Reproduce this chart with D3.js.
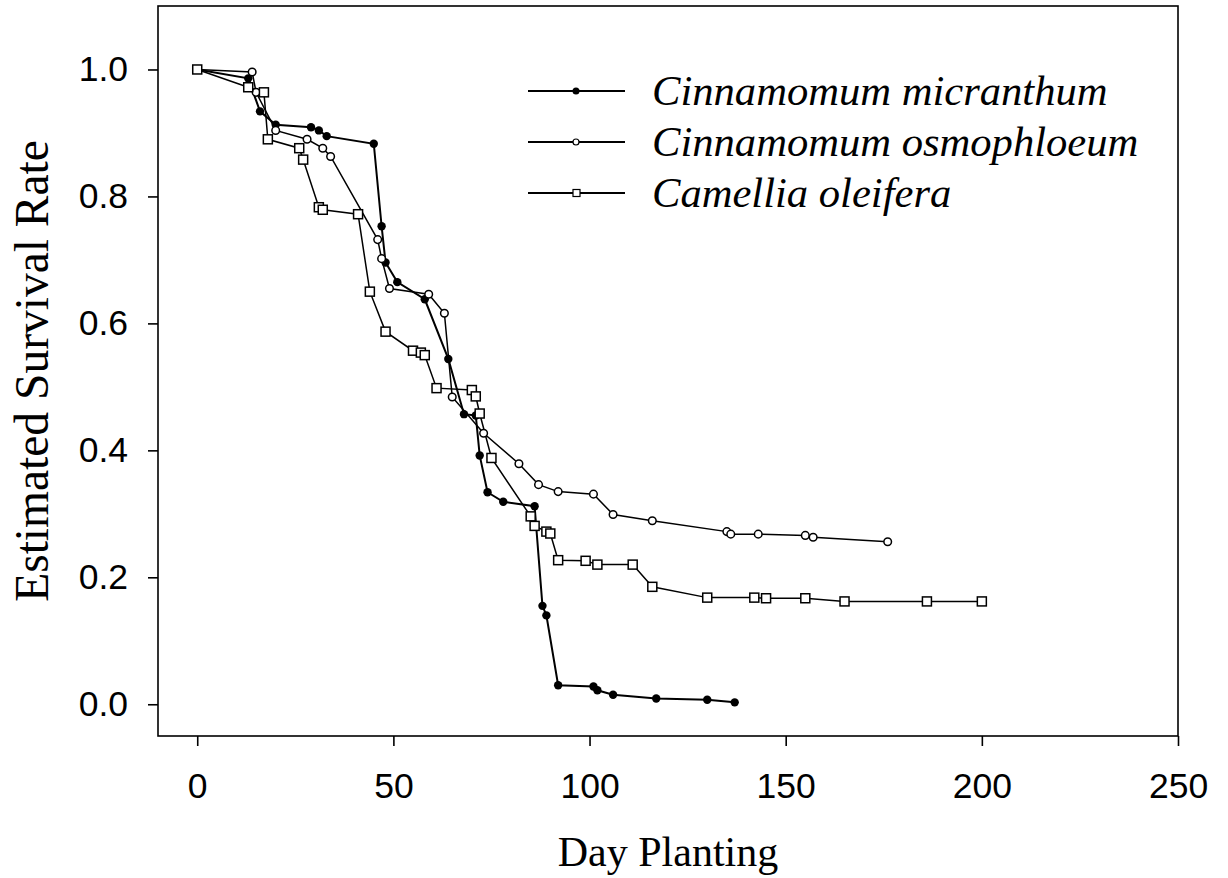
<!DOCTYPE html>
<meta charset="utf-8">
<style>
body { margin: 0; background: #fff; }
.axis text { font-family: "Liberation Sans", Arial, sans-serif; font-size: 35.5px; fill: #000; }
.axis path, .axis line { stroke: #000; stroke-width: 1.6px; }
.frame { fill: none; stroke: #000; stroke-width: 1.6px; }
.line { fill: none; stroke: #000; }
.label { font-family: "Liberation Serif", "Times New Roman", serif; fill: #000; }
.legend text { font-family: "Liberation Serif", "Times New Roman", serif; font-style: italic; font-size: 42.6px; }
</style>
<body>
<script src="https://cdn.jsdelivr.net/npm/d3@7"></script>
<script>

// Cinnamomum micranthum
var micDays = [0, 13, 16, 20, 29, 31, 33, 45, 47, 48, 51, 58, 64, 68, 71, 72, 74, 78, 86, 88, 89, 92, 101, 102, 106, 117, 130, 137];
var micRate = [1.0, 0.986, 0.934, 0.913, 0.909, 0.904, 0.895, 0.883, 0.753, 0.696, 0.665, 0.638, 0.544, 0.457, 0.455, 0.392, 0.334, 0.319, 0.312, 0.155, 0.140, 0.030, 0.028, 0.022, 0.015, 0.009, 0.007, 0.003];

// Cinnamomum osmophloeum
var osmDays = [0, 14, 15, 20, 28, 32, 34, 46, 47, 49, 59, 63, 65, 73, 82, 87, 92, 101, 106, 116, 135, 136, 143, 155, 157, 176];
var osmRate = [1.0, 0.996, 0.964, 0.904, 0.890, 0.876, 0.863, 0.732, 0.702, 0.655, 0.646, 0.616, 0.484, 0.427, 0.379, 0.346, 0.335, 0.331, 0.299, 0.289, 0.272, 0.268, 0.268, 0.266, 0.263, 0.256];

// Camellia oleifera
var camDays = [0, 13, 17, 18, 26, 27, 31, 32, 41, 44, 48, 55, 57, 58, 61, 70, 71, 72, 75, 85, 86, 89, 90, 92, 99, 102, 111, 116, 130, 142, 145, 155, 165, 186, 200];
var camRate = [1.0, 0.972, 0.964, 0.890, 0.876, 0.858, 0.783, 0.779, 0.772, 0.650, 0.587, 0.557, 0.554, 0.550, 0.498, 0.495, 0.485, 0.458, 0.388, 0.296, 0.281, 0.272, 0.269, 0.227, 0.226, 0.220, 0.220, 0.185, 0.168, 0.168, 0.167, 0.167, 0.162, 0.162, 0.162];

var names = ["Cinnamomum micranthum", "Cinnamomum osmophloeum", "Camellia oleifera"];
var xTicks = [0, 50, 100, 150, 200, 250];
var yTicks = [0.0, 0.2, 0.4, 0.6, 0.8, 1.0];

var width = 1228, height = 878;
var margin = {top: 6, right: 50, bottom: 142, left: 158};

var svg = d3.select("body").append("svg")
    .attr("width", width)
    .attr("height", height);

var x = d3.scaleLinear().domain([-10, 250]).range([margin.left, width - margin.right]);
var y = d3.scaleLinear().domain([-0.05, 1.1]).range([height - margin.bottom, margin.top]);

// frame
svg.append("rect").attr("class", "frame")
    .attr("x", x(-10)).attr("y", y(1.1))
    .attr("width", x(250) - x(-10)).attr("height", y(-0.05) - y(1.1));

var xAxis = d3.axisBottom(x).tickValues(xTicks).tickSize(10).tickPadding(27).tickFormat(d3.format("d"));
var yAxis = d3.axisLeft(y).tickValues(yTicks).tickSize(10).tickPadding(20).tickFormat(d3.format(".1f"));

svg.append("g").attr("class", "axis")
    .attr("transform", "translate(0," + y(-0.05) + ")")
    .call(xAxis)
    .call(g => g.select(".domain").remove());
svg.append("g").attr("class", "axis")
    .attr("transform", "translate(" + x(-10) + ",0)")
    .call(yAxis)
    .call(g => g.select(".domain").remove());

// axis labels
svg.append("text").attr("class", "label")
    .attr("x", (x(-10) + x(250)) / 2).attr("y", 866)
    .attr("text-anchor", "middle").style("font-size", "42px")
    .text("Day Planting");
svg.append("text").attr("class", "label")
    .attr("transform", "translate(48," + (y(-0.05) + y(1.1)) / 2 + ") rotate(-90)")
    .attr("text-anchor", "middle").style("font-size", "47.5px")
    .text("Estimated Survival Rate");

var line = d3.line().x(d => x(d[0])).y(d => y(d[1]));

var mic = d3.zip(micDays, micRate);
var osm = d3.zip(osmDays, osmRate);
var cam = d3.zip(camDays, camRate);

// lines
svg.append("path").datum(mic).attr("class", "line").attr("stroke-width", 2).attr("d", line);
svg.append("path").datum(osm).attr("class", "line").attr("stroke-width", 1.5).attr("d", line);
svg.append("path").datum(cam).attr("class", "line").attr("stroke-width", 1.5).attr("d", line);

// markers
svg.append("g").selectAll("circle").data(mic).enter().append("circle")
    .attr("cx", d => x(d[0])).attr("cy", d => y(d[1]))
    .attr("r", 4.2).attr("fill", "#000");

svg.append("g").selectAll("circle").data(osm).enter().append("circle")
    .attr("cx", d => x(d[0])).attr("cy", d => y(d[1]))
    .attr("r", 3.8).attr("fill", "#fff").attr("stroke", "#000").attr("stroke-width", 1.5);

svg.append("g").selectAll("rect").data(cam).enter().append("rect")
    .attr("x", d => x(d[0]) - 4.5).attr("y", d => y(d[1]) - 4.5)
    .attr("width", 9).attr("height", 9)
    .attr("fill", "#fff").attr("stroke", "#000").attr("stroke-width", 1.5);

// legend
var legendY = [91, 142, 193];
var legend = svg.append("g").attr("class", "legend");
for (var i = 0; i < names.length; i++) {
    legend.append("line")
        .attr("x1", 528).attr("x2", 625)
        .attr("y1", legendY[i]).attr("y2", legendY[i])
        .attr("stroke", "#000").attr("stroke-width", 2);
    if (i == 0) {
        legend.append("circle").attr("cx", 576).attr("cy", legendY[i]).attr("r", 3.5).attr("fill", "#000");
    } else if (i == 1) {
        legend.append("circle").attr("cx", 576).attr("cy", legendY[i]).attr("r", 3)
            .attr("fill", "#fff").attr("stroke", "#000").attr("stroke-width", 1.2);
    } else {
        legend.append("rect").attr("x", 573).attr("y", legendY[i] - 3.5).attr("width", 7).attr("height", 7)
            .attr("fill", "#fff").attr("stroke", "#000").attr("stroke-width", 1.2);
    }
    legend.append("text")
        .attr("x", 652).attr("y", legendY[i]).attr("dy", "0.33em")
        .text(names[i]);
}
</script>
</body>
